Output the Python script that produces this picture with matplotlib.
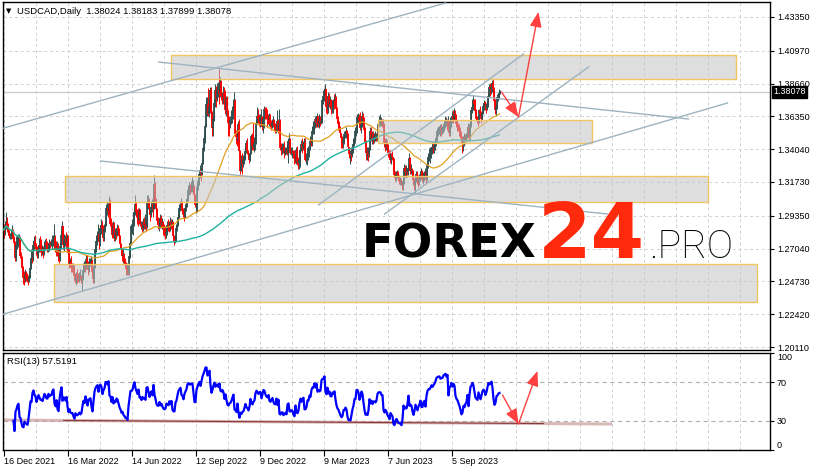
import numpy as np
import pandas as pd
import matplotlib
matplotlib.use('Agg')
import matplotlib.pyplot as plt
from matplotlib.patches import Rectangle

plt.rcParams['font.family'] = ['Liberation Sans', 'DejaVu Sans']

# --- USDCAD daily bars, 16 Dec 2021 .. 10 Nov 2023 (in pips, 1.2836 -> 12836) ---
first_open = 12870
close_pips = [
    # Dec 2021
    12836, 12857, 12890, 12862, 12840, 12790, 12795, 12810, 12835, 12775, 12745, 12637,
    # Jan 2022
    12730, 12745, 12770, 12780, 12655, 12640, 12565, 12500, 12490, 12525, 12500, 12490, 12475, 12510, 12570, 12640, 12635, 12730, 12760, 12725, 12710,
    # Feb
    12660, 12690, 12730, 12710, 12690, 12690, 12680, 12710, 12740, 12730, 12710, 12710, 12745, 12730, 12740, 12740, 12770, 12780, 12700, 12680,
    # Mar
    12720, 12650, 12630, 12720, 12800, 12860, 12730, 12770, 12770, 12740, 12780, 12675, 12590, 12620, 12570, 12560, 12560, 12510, 12475, 12520, 12495, 12490, 12500,
    # Apr
    12510, 12490, 12500, 12550, 12590, 12570, 12630, 12600, 12550, 12600, 12610, 12615, 12540, 12490, 12580, 12700, 12760, 12790, 12810, 12750, 12850,
    # May
    12870, 12850, 12780, 12840, 12870, 12990, 12990, 12970, 13030, 12880, 12870, 12800, 12870, 12780, 12820, 12800, 12850, 12835, 12790, 12735, 12700, 12650,
    # Jun
    12660, 12610, 12590, 12560, 12560, 12530, 12650, 12740, 12860, 12860, 12880, 12960, 13020, 12960, 12930, 12900, 12970, 12880, 12880, 12850, 12890, 12870,
    # Jul
    12880, 12860, 13030, 13040, 12990, 12940, 13000, 13020, 12980, 13160, 13040, 12980, 12900, 12870, 12870, 12920, 12870, 12890, 12850, 12820, 12810,
    # Aug
    12820, 12870, 12860, 12850, 12890, 12860, 12890, 12790, 12770, 12770, 12850, 12870, 12930, 12990, 13010, 13030, 12970, 12960, 12930, 12990, 13020, 13050, 13120,
    # Sep
    13140, 13130, 13130, 13140, 13140, 13080, 13010, 13010, 13140, 13180, 13230, 13260, 13230, 13310, 13410, 13480, 13570, 13720, 13720, 13650, 13700, 13820,
    # Oct
    13660, 13550, 13620, 13730, 13820, 13760, 13820, 13820, 13790, 13880, 13780, 13770, 13800, 13770, 13680, 13760, 13670, 13590, 13580, 13610, 13620,
    # Nov
    13650, 13700, 13740, 13510, 13490, 13460, 13580, 13390, 13250, 13330, 13300, 13330, 13340, 13390, 13450, 13390, 13370, 13330, 13380, 13500, 13430, 13410,
    # Dec
    13450, 13470, 13590, 13640, 13620, 13600, 13630, 13630, 13560, 13620, 13690, 13680, 13640, 13620, 13610, 13640, 13580, 13570, 13590, 13610, 13570, 13550,
    # Jan 2023
    13550, 13600, 13540, 13590, 13410, 13400, 13420, 13420, 13380, 13390, 13400, 13380, 13460, 13470, 13380, 13380, 13390, 13380, 13340, 13320, 13400, 13320,
    # Feb
    13310, 13330, 13400, 13440, 13410, 13440, 13450, 13330, 13330, 13350, 13410, 13410, 13460, 13450, 13530, 13560, 13560, 13620, 13590, 13640,
    # Mar
    13580, 13600, 13590, 13600, 13750, 13780, 13780, 13830, 13700, 13680, 13780, 13720, 13750, 13700, 13700, 13750, 13740, 13770, 13690, 13620, 13580, 13560, 13520,
    # Apr
    13480, 13450, 13460, 13510, 13510, 13530, 13510, 13420, 13370, 13370, 13360, 13400, 13440, 13470, 13530, 13530, 13630, 13630, 13610, 13550,
    # May
    13580, 13640, 13620, 13540, 13450, 13380, 13390, 13370, 13410, 13530, 13480, 13510, 13470, 13500, 13500, 13490, 13510, 13580, 13600, 13600, 13600, 13580, 13580,
    # Jun
    13450, 13420, 13440, 13420, 13380, 13360, 13330, 13370, 13350, 13330, 13220, 13200, 13230, 13240, 13210, 13180, 13180, 13170, 13150, 13180, 13270, 13240,
    # Jul
    13250, 13240, 13270, 13340, 13250, 13260, 13250, 13190, 13150, 13180, 13230, 13200, 13170, 13200, 13220, 13250, 13190, 13190, 13230, 13240, 13190,
    # Aug
    13290, 13350, 13370, 13370, 13390, 13420, 13410, 13430, 13450, 13480, 13530, 13540, 13550, 13550, 13540, 13550, 13550, 13580, 13590, 13600, 13590, 13610, 13520,
    # Sep
    13590, 13600, 13640, 13620, 13650, 13640, 13580, 13560, 13550, 13530, 13510, 13480, 13440, 13450, 13490, 13480, 13500, 13510, 13560, 13480, 13580,
    # Oct
    13680, 13700, 13740, 13720, 13670, 13620, 13610, 13600, 13680, 13650, 13620, 13660, 13710, 13730, 13720, 13690, 13720, 13780, 13840, 13830, 13840, 13870,
    # Nov
    13830, 13740, 13680, 13700, 13770, 13780, 13802.4, 13807.8,
]
high_pips = [
    12880, 12900, 12964, 12930, 12885, 12850, 12815, 12835, 12870, 12845, 12790, 12760,
    12790, 12800, 12810, 12805, 12790, 12680, 12650, 12580, 12545, 12560, 12545, 12530, 12520, 12540, 12610, 12700, 12680, 12760, 12790, 12800, 12740,
    12725, 12730, 12780, 12790, 12770, 12730, 12720, 12760, 12770, 12780, 12760, 12740, 12770, 12760, 12770, 12800, 12800, 12880, 12800, 12760,
    12760, 12740, 12680, 12740, 12830, 12900, 12860, 12810, 12800, 12820, 12810, 12800, 12700, 12640, 12650, 12600, 12600, 12590, 12530, 12540, 12560, 12530, 12540,
    12560, 12520, 12540, 12600, 12620, 12620, 12660, 12660, 12620, 12640, 12640, 12650, 12630, 12540, 12600, 12730, 12800, 12830, 12880, 12840, 12870,
    12910, 12900, 12870, 12880, 12900, 13020, 13040, 13010, 13076, 13050, 12920, 12890, 12900, 12890, 12850, 12840, 12880, 12870, 12850, 12800, 12740, 12700,
    12700, 12670, 12640, 12610, 12600, 12590, 12680, 12760, 12880, 12910, 12960, 13000, 13079, 13030, 12980, 12990, 12990, 12980, 12900, 12900, 12920, 12930,
    12950, 12920, 13080, 13080, 13060, 13000, 13040, 13050, 13120, 13223, 13170, 13060, 12990, 12930, 12910, 12950, 12940, 12920, 12900, 12880, 12860,
    12860, 12900, 12910, 12900, 12930, 12910, 12910, 12900, 12800, 12800, 12880, 12900, 12960, 13020, 13040, 13060, 13040, 12990, 12990, 13010, 13040, 13080, 13150,
    13170, 13160, 13180, 13208, 13190, 13150, 13090, 13040, 13160, 13220, 13250, 13290, 13270, 13330, 13430, 13520, 13590, 13770, 13770, 13838, 13760, 13840,
    13840, 13670, 13640, 13760, 13860, 13850, 13870, 13880, 13977, 13910, 13890, 13810, 13850, 13840, 13820, 13780, 13780, 13680, 13640, 13640, 13680,
    13710, 13760, 13810, 13760, 13540, 13560, 13600, 13620, 13400, 13360, 13380, 13360, 13370, 13420, 13470, 13480, 13400, 13380, 13400, 13510, 13520, 13590,
    13490, 13510, 13620, 13700, 13690, 13650, 13650, 13690, 13640, 13640, 13710, 13703, 13700, 13690, 13650, 13660, 13650, 13610, 13620, 13640, 13620, 13590,
    13580, 13680, 13620, 13685, 13620, 13450, 13450, 13450, 13460, 13420, 13420, 13450, 13480, 13520, 13480, 13420, 13420, 13400, 13400, 13370, 13420, 13430,
    13350, 13400, 13420, 13470, 13480, 13460, 13480, 13480, 13380, 13400, 13430, 13420, 13500, 13490, 13570, 13600, 13600, 13640, 13640, 13660,
    13640, 13650, 13640, 13640, 13760, 13820, 13835, 13862, 13830, 13740, 13810, 13800, 13780, 13760, 13740, 13760, 13790, 13800, 13780, 13700, 13640, 13600, 13570,
    13520, 13500, 13490, 13530, 13530, 13560, 13540, 13520, 13420, 13400, 13420, 13420, 13480, 13490, 13560, 13570, 13650, 13660, 13650, 13668,
    13630, 13670, 13660, 13630, 13560, 13470, 13420, 13420, 13430, 13560, 13560, 13530, 13530, 13520, 13530, 13520, 13530, 13600, 13640, 13655, 13630, 13620, 13620,
    13590, 13480, 13480, 13470, 13440, 13400, 13400, 13380, 13390, 13350, 13340, 13250, 13250, 13260, 13250, 13220, 13210, 13200, 13180, 13200, 13300, 13290,
    13290, 13270, 13300, 13380, 13350, 13300, 13270, 13260, 13200, 13200, 13250, 13250, 13220, 13230, 13240, 13270, 13260, 13240, 13250, 13270, 13250,
    13310, 13380, 13410, 13420, 13420, 13450, 13460, 13460, 13470, 13500, 13550, 13570, 13570, 13580, 13580, 13570, 13580, 13610, 13640, 13630, 13620, 13640, 13610,
    13630, 13620, 13670, 13680, 13694, 13680, 13650, 13610, 13590, 13580, 13560, 13530, 13500, 13500, 13520, 13510, 13520, 13540, 13590, 13570, 13600,
    13690, 13760, 13785, 13760, 13760, 13690, 13640, 13630, 13690, 13710, 13670, 13680, 13730, 13750, 13740, 13730, 13740, 13800, 13860, 13870, 13870, 13890,
    13899, 13840, 13760, 13720, 13790, 13800, 13830, 13818.3,
]
low_pips = [
    12780, 12800, 12840, 12820, 12800, 12780, 12770, 12775, 12790, 12760, 12720, 12620,
    12620, 12700, 12715, 12730, 12640, 12600, 12555, 12455, 12450, 12470, 12475, 12470, 12450, 12470, 12500, 12560, 12600, 12620, 12700, 12700, 12660,
    12640, 12640, 12680, 12680, 12650, 12660, 12640, 12660, 12700, 12700, 12680, 12680, 12690, 12710, 12720, 12700, 12720, 12700, 12680, 12650,
    12650, 12620, 12600, 12620, 12700, 12780, 12700, 12690, 12720, 12700, 12730, 12660, 12570, 12580, 12540, 12540, 12530, 12490, 12460, 12450, 12460, 12470, 12470,
    12480, 12460, 12403, 12480, 12540, 12540, 12560, 12580, 12520, 12540, 12580, 12580, 12520, 12460, 12460, 12570, 12680, 12730, 12760, 12700, 12720,
    12810, 12820, 12760, 12760, 12820, 12860, 12940, 12930, 12950, 12860, 12830, 12780, 12780, 12760, 12760, 12770, 12790, 12800, 12760, 12710, 12660, 12620,
    12600, 12590, 12570, 12520, 12520, 12518, 12520, 12640, 12730, 12810, 12800, 12860, 12940, 12930, 12880, 12860, 12880, 12860, 12840, 12820, 12830, 12840,
    12840, 12830, 12850, 12980, 12950, 12900, 12930, 12960, 12930, 12980, 13000, 12960, 12880, 12840, 12830, 12850, 12850, 12840, 12800, 12790, 12770,
    12780, 12800, 12830, 12820, 12830, 12840, 12850, 12760, 12728, 12740, 12760, 12830, 12860, 12920, 12970, 12990, 12950, 12930, 12900, 12920, 12970, 13000, 13040,
    13080, 13090, 13100, 13100, 13120, 13050, 13000, 12955, 12960, 13120, 13150, 13200, 13180, 13220, 13300, 13390, 13450, 13560, 13640, 13640, 13630, 13660,
    13600, 13500, 13500, 13600, 13700, 13700, 13740, 13770, 13720, 13770, 13750, 13720, 13720, 13720, 13650, 13640, 13650, 13500, 13500, 13550, 13580,
    13590, 13620, 13670, 13500, 13440, 13430, 13440, 13380, 13230, 13260, 13226, 13280, 13300, 13330, 13380, 13370, 13350, 13310, 13320, 13370, 13400, 13400,
    13385, 13400, 13440, 13580, 13590, 13570, 13560, 13600, 13540, 13520, 13550, 13620, 13620, 13560, 13580, 13570, 13560, 13540, 13550, 13560, 13540, 13520,
    13520, 13530, 13520, 13530, 13400, 13360, 13370, 13380, 13340, 13360, 13370, 13360, 13310, 13420, 13370, 13360, 13340, 13340, 13300, 13310, 13300, 13290,
    13262, 13265, 13280, 13390, 13380, 13400, 13390, 13320, 13300, 13290, 13330, 13350, 13400, 13430, 13430, 13510, 13510, 13550, 13560, 13560,
    13560, 13550, 13570, 13580, 13590, 13720, 13740, 13740, 13660, 13650, 13660, 13700, 13690, 13650, 13660, 13660, 13690, 13700, 13660, 13590, 13540, 13530, 13490,
    13410, 13410, 13410, 13440, 13480, 13480, 13460, 13410, 13340, 13300, 13320, 13350, 13380, 13430, 13450, 13500, 13520, 13590, 13580, 13540,
    13520, 13560, 13590, 13520, 13420, 13330, 13330, 13320, 13350, 13400, 13460, 13440, 13440, 13450, 13460, 13460, 13460, 13500, 13560, 13570, 13570, 13560, 13550,
    13420, 13390, 13400, 13400, 13350, 13340, 13310, 13300, 13330, 13260, 13200, 13180, 13180, 13200, 13180, 13160, 13150, 13150, 13120, 13117, 13160, 13210,
    13200, 13220, 13220, 13260, 13230, 13230, 13220, 13150, 13120, 13093, 13170, 13160, 13140, 13150, 13180, 13200, 13170, 13160, 13180, 13200, 13160,
    13180, 13270, 13320, 13310, 13340, 13370, 13380, 13380, 13400, 13430, 13460, 13500, 13510, 13500, 13500, 13510, 13520, 13530, 13550, 13570, 13540, 13570, 13500,
    13500, 13560, 13590, 13590, 13610, 13620, 13560, 13530, 13530, 13500, 13480, 13460, 13380, 13390, 13430, 13440, 13460, 13480, 13500, 13460, 13470,
    13560, 13660, 13680, 13690, 13650, 13600, 13590, 13570, 13590, 13640, 13590, 13610, 13650, 13680, 13680, 13660, 13680, 13700, 13770, 13780, 13790, 13810,
    13800, 13720, 13655, 13640, 13690, 13740, 13760, 13789.9,
]

price_ticks = [1.20110, 1.22420, 1.24730, 1.27040, 1.29350, 1.31730,
               1.34040, 1.36350, 1.38660, 1.40970, 1.43350]
rsi_ticks = [0, 30, 70, 100]

# support / resistance zones: bar index from..to, price top..bottom
zone_x0 = [167, 374, 61, 50]
zone_x1 = [732, 588, 704, 753]
zone_top = [1.40674, 1.36100, 1.32150, 1.25960]
zone_bot = [1.38984, 1.34480, 1.30320, 1.23280]

# trend lines ((bar, price), (bar, price))
trend_lines = [
    ((-3, 1.22364), (724, 1.37294)),
    ((-3, 1.35463), (442, 1.44336)),
    ((155, 1.40181), (685, 1.36167)),
    ((97, 1.33209), (604, 1.29477)),
    ((315, 1.30111), (520, 1.40744)),
    ((381, 1.29477), (585, 1.39829)),
]
price_arrows = [((498, 1.38068), (515, 1.36308)), ((515, 1.36308), (535, 1.43702))]
rsi_arrows = [((499, 56.7), (515, 26.8)), ((515, 26.8), (534, 81.4))]
rsi_support = ((-3, 30.9), (607, 26.8))

# ---------------------------------------------------------------
n = min(len(close_pips), len(high_pips), len(low_pips))
close = np.array(close_pips[:n]) / 10000
high = np.array(high_pips[:n]) / 10000
low = np.array(low_pips[:n]) / 10000
open_ = np.r_[first_open / 10000, close[:-1]]
high = np.maximum(high, np.maximum(open_, close))
low = np.minimum(low, np.minimum(open_, close))
dates = pd.bdate_range('2021-12-16', periods=n)
x = np.arange(n)

s = pd.Series(close)
ma50 = s.rolling(50, min_periods=1).mean()
ma200 = s.rolling(200, min_periods=1).mean()
delta = s.diff()
gain = delta.clip(lower=0).ewm(alpha=1 / 13, adjust=True, min_periods=10).mean()
loss = (-delta.clip(upper=0)).ewm(alpha=1 / 13, adjust=True, min_periods=10).mean()
rsi = 100 - 100 / (1 + gain / loss)

W, H = 816, 471
fig = plt.figure(figsize=(W / 100, H / 100), dpi=100)


def box(x0, y0, x1, y1):
    return [x0 / W, 1 - y1 / H, (x1 - x0) / W, (y1 - y0) / H]


ax = fig.add_axes(box(3, 2, 770, 350))
ax2 = fig.add_axes(box(3, 353, 770, 450))

major_x = list(range(0, n, 64))
minor_x = [k for k in range(0, 767, 32) if k not in major_x]
grid_kw = dict(color='#d0d0d0', lw=0.7, ls=(0, (3, 3)))
for a in (ax, ax2):
    a.set_xlim(-0.5, 766.5)
    a.set_xticks(major_x)
    a.set_xticks(minor_x, minor=True)
    a.grid(True, axis='x', which='both', **grid_kw)
    a.set_axisbelow(True)
    for sp in a.spines.values():
        sp.set_color('black')
        sp.set_linewidth(1.0)
    a.yaxis.tick_right()
    a.tick_params(axis='y', labelsize=6.5, length=3, width=0.8, pad=2, colors='black')

# main price panel
ax.set_ylim(1.19899, 1.44406)
ax.set_yticks(price_ticks)
ax.set_yticklabels([f'{p:.5f}' for p in price_ticks])
ax.grid(True, axis='y', **grid_kw)
ax.tick_params(axis='x', which='both', length=0, labelbottom=False)

ax.axhline(close[-1], color='#c8c8c8', lw=0.8, zorder=1)

cols = np.where(close >= open_, '#2f4f4f', '#ff0000')
ax.vlines(x, low, high, colors=cols, lw=0.7, zorder=2)
ax.vlines(x, np.minimum(open_, close), np.maximum(open_, close), colors=cols, lw=1.3, zorder=2)
ax.plot(x, ma50, color='#e0a020', lw=0.9, zorder=3)
ax.plot(x, ma200, color='#20b2a0', lw=1.0, zorder=3)

for x0, x1, top, bot in zip(zone_x0, zone_x1, zone_top, zone_bot):
    ax.add_patch(Rectangle((x0, bot), x1 - x0, top - bot, facecolor='#c4c4c4',
                           edgecolor='none', alpha=0.55, zorder=4))
    ax.add_patch(Rectangle((x0, bot), x1 - x0, top - bot, facecolor='none',
                           edgecolor='#f2c462', lw=1.0, zorder=4.5))

for (x0, p0), (x1, p1) in trend_lines:
    ax.plot([x0, x1], [p0, p1], color='#9db3c0', lw=1.0, zorder=5)

arrow_kw = dict(arrowstyle='-|>,head_length=0.75,head_width=0.3', color='#ff4040',
                lw=1.0, shrinkA=0, shrinkB=0, mutation_scale=12)
for a_axis, arrows in ((ax, price_arrows), (ax2, rsi_arrows)):
    for start, end in arrows:
        a_axis.annotate('', xy=end, xytext=start, arrowprops=arrow_kw, zorder=6)

ax.text(1.004, close[-1], f'{close[-1]:.5f}', transform=ax.get_yaxis_transform(),
        color='white', fontsize=6.5, va='center', ha='left', zorder=10, clip_on=False,
        bbox=dict(boxstyle='square,pad=0.15', fc='black', ec='black'))

# RSI panel
ax2.set_ylim(0, 100)
ax2.set_yticks(rsi_ticks)
ax2.set_yticklabels([str(v) for v in rsi_ticks])
ylabels = ax2.get_yticklabels()
ylabels[0].set_va('bottom')
ylabels[-1].set_va('top')
for lvl in (30, 70):
    ax2.axhline(lvl, color='#b0b0b0', lw=0.8, ls=(0, (4, 3)), zorder=1)
(sx0, sv0), (sx1, sv1) = rsi_support
ax2.plot([sx0, sx1], [sv0, sv1], color='#c99a9a', lw=2.2, alpha=0.7, zorder=2)
ax2.plot([60, 540], [sv0 + (sv1 - sv0) * 63 / 610, sv0 + (sv1 - sv0) * 543 / 610],
         color='#8b3a3a', lw=0.8, zorder=2)
ax2.plot(x, rsi, color='#0000ff', lw=1.6, zorder=3)
ax2.set_xticklabels([f'{dates[k].day} {dates[k]:%b %Y}' for k in major_x])
ax2.tick_params(axis='x', which='major', labelsize=6.5, length=4, width=0.8, pad=1)
ax2.tick_params(axis='x', which='minor', length=0)
for lbl in ax2.get_xticklabels():
    lbl.set_ha('left')

# header texts
fig.text(6 / W, 1 - 11 / H, '\u25bc', fontsize=5, family='DejaVu Sans', va='center')
fig.text(17 / W, 1 - 11 / H, 'USDCAD,Daily  1.38024 1.38183 1.37899 1.38078',
         fontsize=6.8, va='center')
fig.text(7 / W, 1 - 362 / H, 'RSI(13) 57.5191', fontsize=6.8, va='center')

# watermark logo
r = fig.canvas.get_renderer()
logo = [
    ('FOREX', 362, 175, dict(family='DejaVu Sans', fontweight='bold', color='black', fontsize=35)),
    ('24', 538, 107, dict(family='DejaVu Sans', fontweight='bold', color='#ff2a0c', fontsize=56)),
    ('.PRO', 649, 84, dict(family='Roboto', fontweight='light', color='black', fontsize=28)),
]
for txt, px, target_w, kw in logo:
    t = fig.text(px / W, 1 - 258 / H, txt, va='baseline', ha='left', zorder=20, **kw)
    w = t.get_window_extent(r).width
    t.set_fontsize(kw['fontsize'] * target_w / w)

fig.savefig('out.png', dpi=100)
